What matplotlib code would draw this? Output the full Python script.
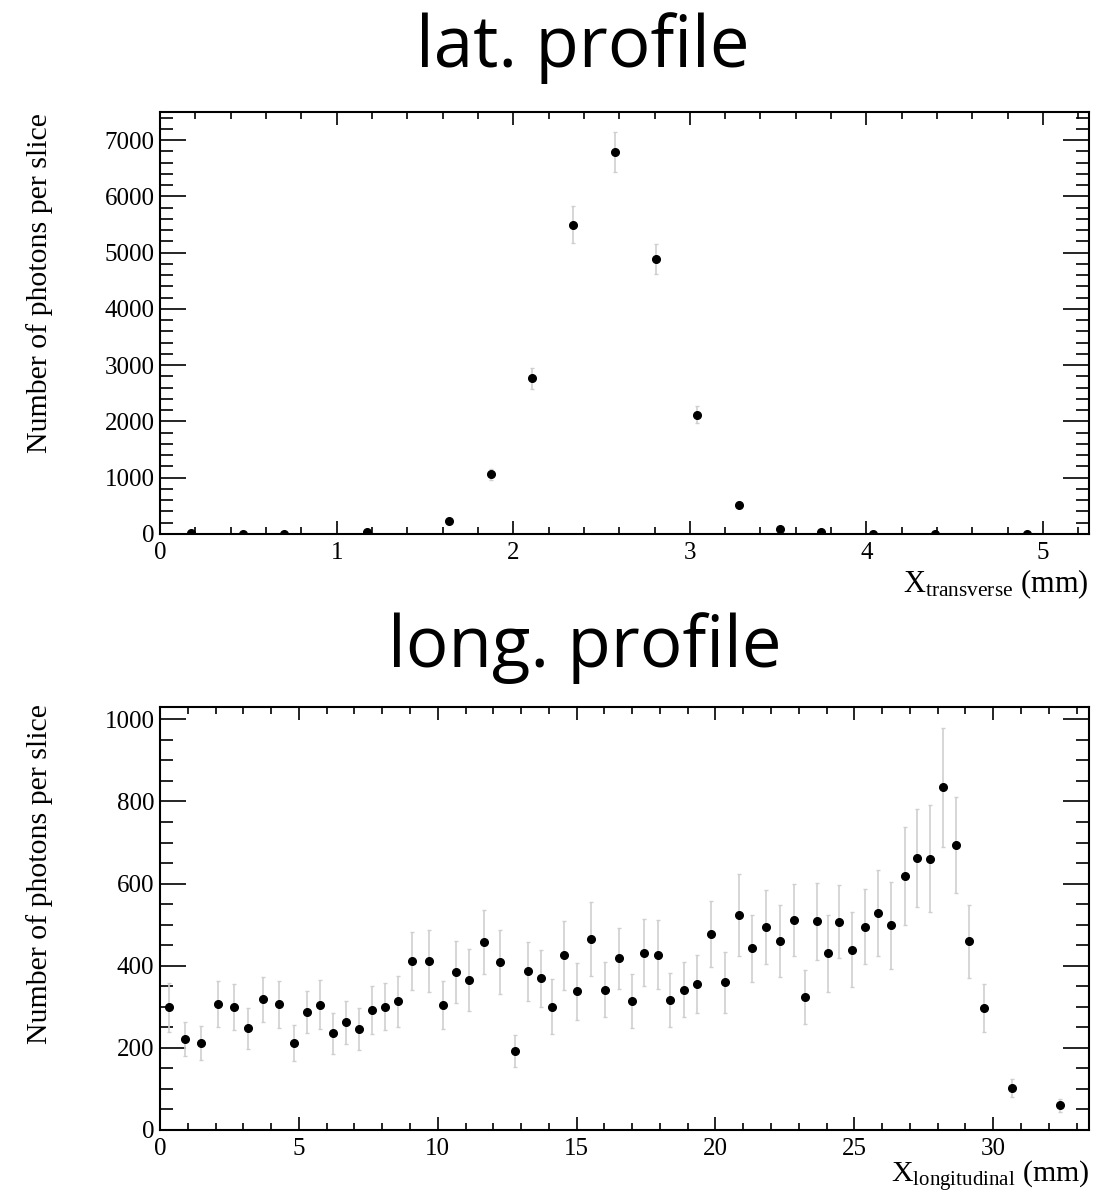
import matplotlib
matplotlib.use("Agg")
import matplotlib.pyplot as plt
from matplotlib.ticker import MultipleLocator

# ---------------- data ----------------
lat_x = [0.177, 0.472, 0.704, 1.17, 1.638, 1.872, 2.108, 2.340, 2.575, 2.810,
         3.043, 3.277, 3.511, 3.743, 4.036, 4.387, 4.911]
lat_y = [10, 5, 5, 40, 237, 1062, 2764, 5498, 6797, 4893,
         2123, 521, 83, 30, 5, 5, 5]
lat_err = [3, 2, 2, 8, 20, 100, 190, 330, 355, 265,
           150, 40, 10, 5, 2, 2, 2]

long_x = [0.324, 0.900, 1.476, 2.076, 2.664, 3.18, 3.708, 4.296, 4.824, 5.292,
          5.748, 6.216, 6.696, 7.164, 7.62, 8.1, 8.568, 9.084, 9.672, 10.2,
          10.67, 11.14, 11.65, 12.24, 12.78, 13.24, 13.71, 14.12, 14.53, 15.0,
          15.52, 16.03, 16.51, 16.98, 17.44, 17.92, 18.37, 18.85, 19.33, 19.85,
          20.36, 20.84, 21.31, 21.83, 22.34, 22.82, 23.23, 23.64, 24.05, 24.45,
          24.92, 25.39, 25.86, 26.33, 26.81, 27.26, 27.73, 28.2, 28.67, 29.13,
          29.67, 30.66, 32.41]
long_y = [299, 221, 212, 307, 299, 248, 318, 306, 212, 287,
          305, 235, 262, 246, 292, 300, 313, 411, 411, 305,
          384, 365, 457, 408, 193, 386, 369, 300, 426, 338,
          465, 341, 418, 315, 432, 427, 317, 341, 355, 477,
          360, 524, 442, 494, 460, 511, 324, 508, 430, 507,
          439, 495, 528, 498, 619, 662, 661, 834, 695, 459,
          297, 102, 60]
long_err = [60, 42, 42, 57, 56, 50, 55, 58, 44, 52,
            60, 51, 53, 52, 58, 57, 62, 71, 76, 58,
            75, 76, 78, 78, 39, 71, 69, 67, 84, 69,
            90, 67, 75, 66, 81, 84, 65, 67, 71, 80,
            74, 100, 81, 90, 88, 88, 66, 94, 93, 89,
            91, 92, 105, 105, 119, 120, 130, 145, 117, 89,
            58, 21, 16]

titles = ["lat. profile", "long. profile"]
ylabel = "Number of photons per slice"
xlabels = [r"X$_{\mathrm{transverse}}$ (mm)", r"X$_{\mathrm{longitudinal}}$ (mm)"]

# ---------------- style ----------------
plt.rcParams["font.family"] = ["Liberation Serif", "DejaVu Serif"]
plt.rcParams["mathtext.fontset"] = "custom"
plt.rcParams["mathtext.rm"] = "Liberation Serif"
plt.rcParams["mathtext.it"] = "Liberation Serif:italic"

W, H = 1118, 1195
fig = plt.figure(figsize=(W / 100, H / 100), dpi=100)

def fx(px):
    return px / W

def fy(py):
    return 1 - py / H

ax1 = fig.add_axes([fx(160), fy(534), fx(1089) - fx(160), fy(112) - fy(534)])
ax2 = fig.add_axes([fx(160), fy(1130), fx(1089) - fx(160), fy(707) - fy(1130)])

def style(ax, xmaj, xmin, ymaj, ymin):
    ax.xaxis.set_major_locator(MultipleLocator(xmaj))
    ax.xaxis.set_minor_locator(MultipleLocator(xmin))
    ax.yaxis.set_major_locator(MultipleLocator(ymaj))
    ax.yaxis.set_minor_locator(MultipleLocator(ymin))
    for s in ax.spines.values():
        s.set_linewidth(1.5)
    ax.tick_params(axis="both", which="both", direction="in",
                   top=True, right=True, labelsize=18, width=1.2, colors="black")
    ax.tick_params(axis="x", which="major", length=9.2, pad=6)
    ax.tick_params(axis="x", which="minor", length=4.8)
    ax.tick_params(axis="y", which="major", length=19, pad=4)
    ax.tick_params(axis="y", which="minor", length=9.5)

def draw(ax, x, y, e):
    ax.errorbar(x, y, yerr=e, fmt="o", color="black", markersize=5.5,
                ecolor="#cfcfcf", elinewidth=1.2, capsize=1.4, capthick=1.0,
                zorder=3)

draw(ax1, lat_x, lat_y, lat_err)
ax1.set_xlim(0, 5.26)
ax1.set_ylim(0, 7500)
style(ax1, 1, 0.2, 1000, 200)

draw(ax2, long_x, long_y, long_err)
ax2.set_xlim(0, 33.45)
ax2.set_ylim(0, 1030)
style(ax2, 5, 1, 200, 50)

# titles
fig.text(fx(583), fy(67), titles[0], family="Open Sans", fontsize=51,
         ha="center", va="baseline")
fig.text(fx(585), fy(667), titles[1], family="Open Sans", fontsize=51,
         ha="center", va="baseline")

# y labels (aligned to top of axes, ROOT style)
fig.text(fx(40), fy(113), ylabel, rotation=90, fontsize=21.5,
         ha="center", va="top")
fig.text(fx(40), fy(704), ylabel, rotation=90, fontsize=21.5,
         ha="center", va="top")

# x labels (right aligned)
fig.text(fx(1089), fy(592), xlabels[0], fontsize=22, ha="right", va="baseline")
fig.text(fx(1089), fy(1183), xlabels[1], fontsize=21.5, ha="right", va="baseline")

fig.savefig("out.png", dpi=100, facecolor="white")
